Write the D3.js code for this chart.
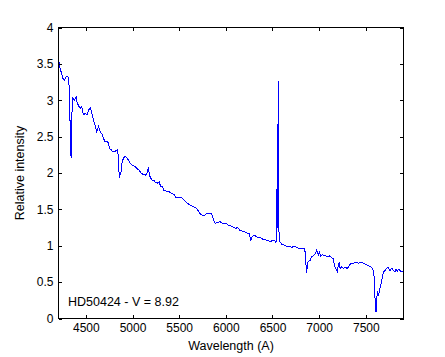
<!DOCTYPE html>
<html><head><meta charset="utf-8">
<script src="https://cdn.jsdelivr.net/npm/d3@7"></script>
<style>body{margin:0;background:#fff}svg{display:block}</style>
</head><body><svg id="chart" width="445" height="357"></svg>
<script>
// Spectrum of HD50424
const wavelength = [4207,4217,4224,4235,4253,4270,4288,4307,4317,4324,4331,4342,4350,4360,4377,4396,4403,4420,4438,4457,4474,4495,4513,4532,4549,4564,4581,4602,4617,4635,4653,4671,4688,4706,4725,4742,4752,4771,4789,4806,4824,4835,4846,4853,4860,4866,4875,4885,4902,4921,4939,4956,4974,4992,5010,5028,5046,5063,5081,5100,5117,5135,5152,5170,5181,5196,5213,5231,5245,5267,5285,5303,5320,5338,5367,5395,5421,5446,5467,5485,5510,5528,5553,5574,5592,5617,5642,5671,5695,5724,5760,5778,5796,5813,5839,5856,5867,5885,5910,5938,5960,5981,6010,6027,6064,6081,6107,6124,6153,6182,6206,6231,6252,6267,6278,6303,6332,6360,6385,6410,6431,6456,6474,6492,6517,6535,6546,6552,6556,6562,6567,6571,6581,6600,6624,6653,6681,6707,6734,6760,6785,6814,6839,6849,6860,6867,6874,6885,6903,6921,6938,6956,6974,6992,7002,7017,7035,7053,7074,7092,7110,7125,7142,7152,7163,7178,7195,7206,7217,7224,7242,7260,7278,7303,7325,7340,7367,7396,7420,7446,7474,7503,7527,7553,7574,7588,7596,7602,7610,7617,7624,7634,7645,7660,7671,7688,7706,7724,7742,7760,7778,7795,7814,7825,7838,7856,7875,7896,7904];
const intensity = [3.48,3.51,3.44,3.39,3.30,3.28,3.32,3.33,3.26,3.12,2.68,2.20,2.80,3.03,3.00,3.05,2.98,2.93,2.89,2.91,2.80,2.82,2.80,2.87,2.89,2.82,2.73,2.64,2.57,2.64,2.57,2.54,2.48,2.43,2.43,2.42,2.34,2.32,2.29,2.29,2.31,2.32,2.25,2.05,1.93,1.98,1.99,2.13,2.20,2.23,2.21,2.18,2.14,2.11,2.10,2.09,2.06,2.05,2.02,1.99,1.98,1.97,1.98,2.08,1.97,1.93,1.89,1.90,1.87,1.86,1.88,1.81,1.81,1.76,1.75,1.74,1.72,1.70,1.66,1.66,1.66,1.66,1.63,1.60,1.58,1.56,1.54,1.53,1.50,1.44,1.41,1.42,1.45,1.44,1.45,1.42,1.35,1.31,1.32,1.33,1.31,1.30,1.30,1.28,1.27,1.25,1.24,1.25,1.21,1.20,1.19,1.17,1.17,1.07,1.12,1.15,1.12,1.12,1.10,1.08,1.08,1.07,1.05,1.07,1.08,1.05,1.08,2.68,1.25,3.26,1.25,1.17,1.05,1.02,1.01,0.99,0.99,0.98,0.99,0.98,0.96,0.96,0.96,0.92,0.73,0.62,0.76,0.78,0.80,0.85,0.86,0.89,0.94,0.87,0.91,0.86,0.88,0.86,0.86,0.85,0.86,0.85,0.83,0.82,0.73,0.69,0.65,0.73,0.78,0.69,0.71,0.69,0.70,0.69,0.73,0.76,0.76,0.77,0.76,0.77,0.76,0.74,0.73,0.71,0.69,0.59,0.41,0.14,0.09,0.25,0.37,0.32,0.37,0.46,0.53,0.64,0.66,0.69,0.70,0.66,0.69,0.66,0.64,0.68,0.65,0.68,0.64,0.65,0.62];
const xTicks = [4500,5000,5500,6000,6500,7000,7500];
const yTicks = [0,0.5,1,1.5,2,2.5,3,3.5,4];
const xDomain = [4207,7904];
const yDomain = [0,4];
const xLabel = "Wavelength (A)";
const yLabel = "Relative intensity";
const annotation = "HD50424 - V = 8.92";

const L = 58.5, R = 403.5, T = 27.5, B = 318.5;
const svg = d3.select("#chart");
const font = "'Liberation Sans', Arial, sans-serif";
const x = d3.scaleLinear().domain(xDomain).range([L, R]);
const y = d3.scaleLinear().domain(yDomain).range([B, T]);

svg.append("rect").attr("width",445).attr("height",357).attr("fill","#fff");

const data = wavelength.map((w,i)=>[w,intensity[i]]);
svg.append("path").datum(data)
  .attr("fill","none").attr("stroke","#0000ff").attr("stroke-width",1)
  .attr("shape-rendering","crispEdges")
  .attr("d", d3.line().x(d=>x(d[0])).y(d=>y(d[1])));

const tk = 3.5;
function styleAxis(g){
  g.select(".domain").remove();
  g.selectAll("line").attr("stroke","#000").attr("shape-rendering","crispEdges");
  g.selectAll("text").attr("font-family",font).attr("font-size",12).attr("fill","#000");
}
svg.append("g").attr("transform",`translate(0,${B})`)
  .call(d3.axisBottom(x).tickValues(xTicks).tickSize(-tk).tickPadding(5).tickFormat(d3.format("d")))
  .call(styleAxis);
svg.append("g").attr("transform",`translate(0,${T})`)
  .call(d3.axisTop(x).tickValues(xTicks).tickSize(-tk).tickFormat(""))
  .call(styleAxis);
svg.append("g").attr("transform",`translate(${L},0)`)
  .call(d3.axisLeft(y).tickValues(yTicks).tickSize(-tk).tickPadding(5).tickFormat(d3.format("")))
  .call(styleAxis);
svg.append("g").attr("transform",`translate(${R},0)`)
  .call(d3.axisRight(y).tickValues(yTicks).tickSize(-tk).tickFormat(""))
  .call(styleAxis);

svg.append("rect").attr("x",L).attr("y",T).attr("width",R-L).attr("height",B-T)
  .attr("fill","none").attr("stroke","#000").attr("stroke-width",1).attr("shape-rendering","crispEdges");

svg.append("text").attr("x",(L+R)/2).attr("y",350).attr("text-anchor","middle")
  .attr("font-family",font).attr("font-size",12.5).text(xLabel);
svg.append("text").attr("transform",`translate(24,${(T+B)/2}) rotate(-90)`).attr("text-anchor","middle")
  .attr("font-family",font).attr("font-size",12.5).text(yLabel);
svg.append("text").attr("x",68).attr("y",306)
  .attr("font-family",font).attr("font-size",12.5).text(annotation);
</script></body></html>
